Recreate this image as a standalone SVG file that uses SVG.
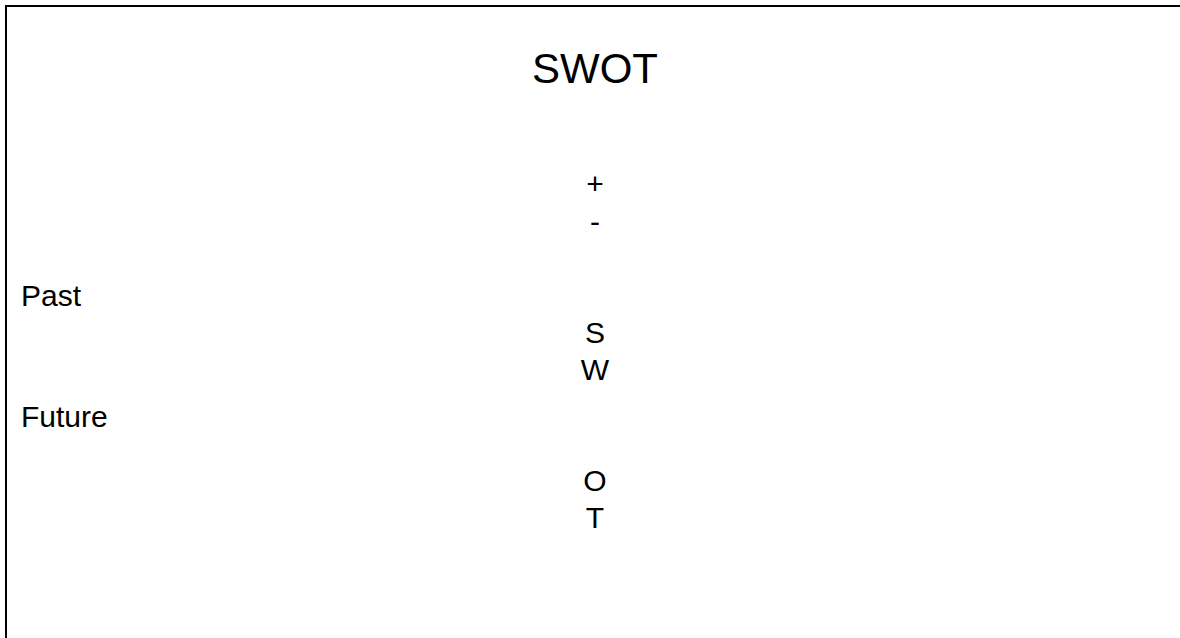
<svg xmlns="http://www.w3.org/2000/svg" width="1180" height="638" viewBox="0 0 1180 638">
<style>
text{font-family:"Liberation Sans",Arial,sans-serif;fill:#000}
.c{text-anchor:middle;font-size:30px}
.l{font-size:30px}
</style>
<rect width="1180" height="638" fill="#fff"/>
<g id="frame"><path d="M6,638 V6 H1180" fill="none" stroke="#000" stroke-width="2"/></g>
<g id="title"><text x="595" y="83" class="c" style="font-size:42px">SWOT</text></g>
<g id="signs"><text x="595" y="194" class="c">+</text><text x="595" y="232" class="c">-</text></g>
<g id="past"><text x="21" y="306" class="l">Past</text></g>
<g id="sw"><text x="595" y="343" class="c">S</text><text x="595" y="380" class="c">W</text></g>
<g id="future"><text x="21" y="427" class="l">Future</text></g>
<g id="ot"><text x="595" y="491" class="c">O</text><text x="595" y="528" class="c">T</text></g>
<g id="connectors"/>
</svg>
